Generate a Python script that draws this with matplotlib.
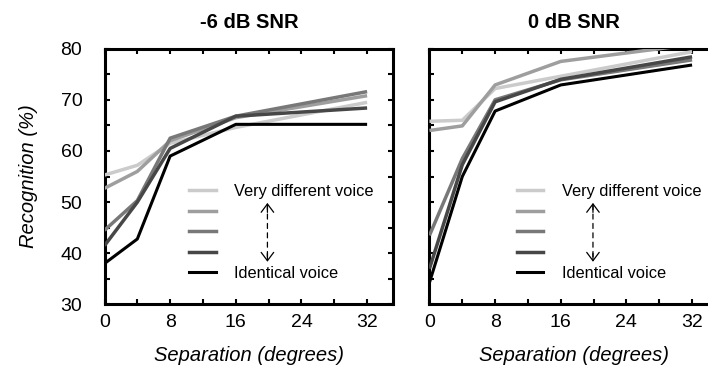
import matplotlib
matplotlib.use("Agg")
import matplotlib.pyplot as plt
from matplotlib.lines import Line2D
from matplotlib.ticker import MultipleLocator

plt.rcParams['font.family'] = ['Liberation Sans', 'DejaVu Sans']

# separation in degrees
separation = [0, 4, 8, 16, 32]

# -6 dB SNR, from very different voice to identical voice
snr_m6_vd = [55.3, 57.2, 61.5, 64.6, 69.5]
snr_m6_v2 = [52.7, 56.0, 62.0, 66.5, 70.8]
snr_m6_v3 = [44.5, 50.3, 62.5, 66.8, 71.6]
snr_m6_v4 = [41.5, 50.0, 60.5, 66.8, 68.4]
snr_m6_id = [38.0, 42.8, 59.0, 65.2, 65.2]

# 0 dB SNR
snr_0_vd = [65.8, 66.0, 72.2, 74.6, 79.4]
snr_0_v2 = [64.0, 64.9, 72.9, 77.5, 80.8]
snr_0_v3 = [43.5, 58.5, 70.0, 73.9, 77.8]
snr_0_v4 = [37.0, 57.3, 69.6, 74.0, 78.4]
snr_0_id = [34.3, 55.0, 67.8, 72.9, 76.8]

titles = ['-6 dB SNR', '0 dB SNR']
legend_labels = ['Very different voice', ' ', ' ', ' ', 'Identical voice']
greys = ['#cbcbcb', '#9e9e9e', '#787878', '#474747', '#000000']
widths = [2.5, 2.5, 2.5, 2.5, 2.2]

panels = [
    [snr_m6_vd, snr_m6_v2, snr_m6_v3, snr_m6_v4, snr_m6_id],
    [snr_0_vd, snr_0_v2, snr_0_v3, snr_0_v4, snr_0_id],
]

fig = plt.figure(figsize=(7.08, 3.76), dpi=100)
ax1 = fig.add_axes([0.1476, 0.1902, 0.408, 0.6805])
ax2 = fig.add_axes([0.6066, 0.1902, 0.408, 0.6805])

for i, ax in enumerate([ax1, ax2]):
    for j, series in enumerate(panels[i]):
        ax.plot(separation, series, color=greys[j], lw=widths[j],
                solid_capstyle='butt', zorder=3 + j * 0.1)
    ax.set_xlim(0, 35.2)
    ax.set_ylim(30, 80)
    ax.xaxis.set_major_locator(MultipleLocator(8))
    ax.xaxis.set_minor_locator(MultipleLocator(4))
    ax.yaxis.set_major_locator(MultipleLocator(10))
    ax.yaxis.set_minor_locator(MultipleLocator(5))
    ax.tick_params(which='both', direction='in', top=True, right=True,
                   length=3.5, width=1.5)
    ax.tick_params(axis='x', which='major', labelsize=14, pad=7)
    ax.tick_params(axis='y', which='major', labelsize=14, pad=16)
    for s in ax.spines.values():
        s.set_linewidth(2.2)
    ax.set_title(titles[i], fontsize=14.5, fontweight='bold', pad=15)
    ax.set_xlabel('Separation (degrees)', fontsize=14.5, style='italic', labelpad=11)

    handles = [Line2D([0], [0], color=c, lw=w) for c, w in zip(greys, widths)]
    anchor_x = 0.294 if i == 0 else 0.303
    ax.legend(handles, legend_labels, loc='upper left', bbox_to_anchor=(anchor_x, 0.47),
              frameon=False, fontsize=11.8, handlelength=1.6, handletextpad=1.15,
              labelspacing=0.33, borderpad=0, borderaxespad=0)

    # dashed double arrow between the two labelled legend rows
    ax_x = 0.564 if i == 0 else 0.566
    ax.annotate('', xy=(ax_x, 0.175), xytext=(ax_x, 0.39), xycoords='axes fraction',
                arrowprops=dict(arrowstyle='-', ls=(0, (4, 3.5)), lw=0.9, color='black',
                                shrinkA=0, shrinkB=0))
    ax.annotate('', xy=(ax_x, 0.397), xytext=(ax_x, 0.36), xycoords='axes fraction',
                arrowprops=dict(arrowstyle='->,head_width=0.45,head_length=0.6', lw=0.9,
                                color='black', shrinkA=0, shrinkB=0))
    ax.annotate('', xy=(ax_x, 0.167), xytext=(ax_x, 0.2), xycoords='axes fraction',
                arrowprops=dict(arrowstyle='->,head_width=0.45,head_length=0.6', lw=0.9,
                                color='black', shrinkA=0, shrinkB=0))

ax1.set_ylabel('Recognition (%)', fontsize=14.5, style='italic', labelpad=16)
ax2.set_yticklabels([])

fig.savefig('out.png', dpi=100)
